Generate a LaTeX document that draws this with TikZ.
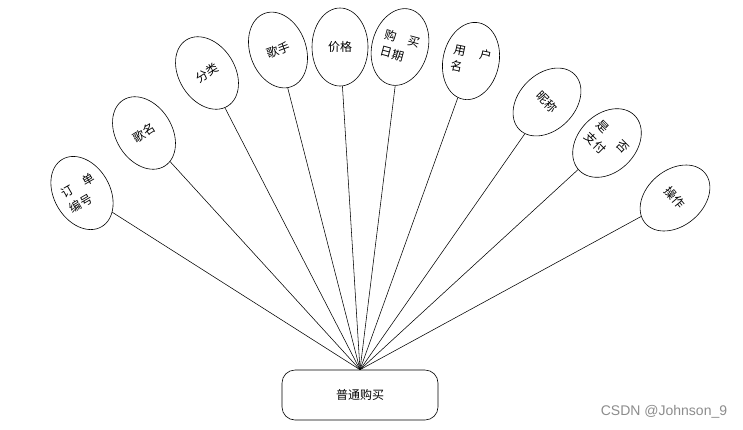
\documentclass[tikz,border=0pt]{standalone}
\usepackage{fontspec}
\newfontfamily\cjk{Noto Sans CJK SC}
\setsansfont{Liberation Sans}
\usetikzlibrary{shapes.geometric}
\tikzset{every picture/.style={line width=0.6pt}}
\definecolor{MarkGray}{HTML}{8C8C8C}
\tikzset{
    attrnode/.style={draw, ellipse, minimum width=56pt, minimum height=78pt, inner sep=0pt, align=left, font=\cjk\fontsize{12}{17}\selectfont},
    entitynode/.style={draw, rounded corners=13pt, minimum width=156pt, minimum height=50pt, font=\cjk\fontsize{12}{15}\selectfont},
    linkline/.style={line width=0.55pt}
}

\begin{document}
\begin{tikzpicture}[x=1pt, y=-1pt]
            \useasboundingbox (0,0) rectangle (743,429);
            \node[entitynode] (buy) at (360,395) {普通购买};
            \node[attrnode, rotate=30] (ddbh) at (82,193) {订\hspace{1em}单\\编号};
            \node[attrnode, rotate=32] (gm) at (144,133) {歌名};
            \node[attrnode, rotate=32] (fl) at (207,73) {分类};
            \node[attrnode, rotate=20] (gs) at (278,50) {歌手};
            \node[attrnode] (jg) at (340,47) {价格};
            \node[attrnode, rotate=-15] (gmrq) at (400,47) {购\hspace{1em}买\\日期};
            \node[attrnode, rotate=-12] (yhm) at (471,61) {用\hspace{1.2em}户\\名};
            \node[attrnode, rotate=-45] (nc) at (547,102) {昵称};
            \node[attrnode, rotate=-45] (sfzf) at (607,143) {是\hspace{1.4em}否\\支付};
            \node[attrnode, rotate=-50] (cz) at (675,198) {操作};
            % every attribute hangs from the top of the entity box
            \foreach \a in {ddbh, gm, fl, gs, jg, gmrq, yhm, nc, sfzf, cz}
                \draw[linkline] (\a) -- (buy.north);
            \node[font=\sffamily\fontsize{14}{16}\selectfont, text=MarkGray] (mark) at (664,412) {CSDN @Johnson\_9};
        \end{tikzpicture}
\end{document}
